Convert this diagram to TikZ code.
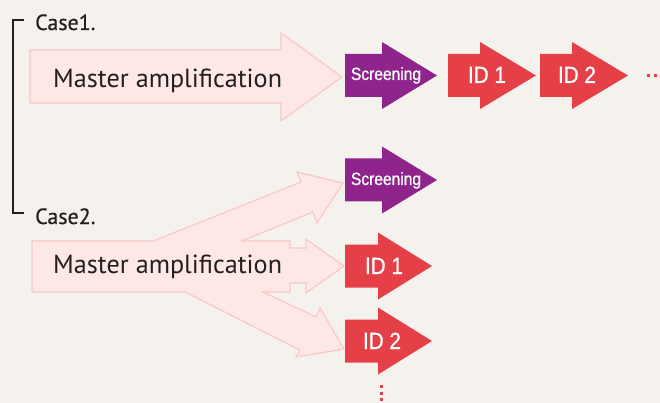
\documentclass[tikz,border=0pt]{standalone}
\usepackage{fontspec}
\setmainfont{PT Sans}
\newfontfamily\casefont[FakeBold=0.6]{PT Sans}
\newfontfamily\arrowfont[FakeStretch=0.88, FakeBold=0.8]{Liberation Sans}

\definecolor{paper}{RGB}{245,242,238}
\definecolor{pinkfill}{RGB}{253,232,229}
\definecolor{pinkline}{RGB}{248,200,198}
\definecolor{screenpurple}{RGB}{142,36,140}
\definecolor{idred}{RGB}{229,64,72}
\definecolor{ink}{RGB}{35,31,32}

\tikzset{
  pics/blockarrow/.style n args={3}{code={
    \fill[#3] (0,-21.5) -- (#1,-21.5) -- (#1,-33.5) -- ({#1+#2},0)
      -- (#1,33.5) -- (#1,21.5) -- (0,21.5) -- cycle;
  }},
  amplify/.style={fill=pinkfill, draw=pinkline, line width=1.2pt},
  casetext/.style={anchor=base west, inner sep=0, text=ink, font=\casefont\fontsize{22}{22}\selectfont},
  mastertext/.style={anchor=base west, inner sep=0, text=ink, font=\fontsize{26.2}{27}\selectfont},
  screentext/.style={anchor=base, inner sep=0, text=white, font=\arrowfont\fontsize{17.7}{18}\selectfont},
  idtext/.style={anchor=base, inner sep=0, text=white, font=\arrowfont\fontsize{23.5}{24}\selectfont},
}

\begin{document}
\begin{tikzpicture}[x=1pt, y=-1pt]
    \useasboundingbox (0,0) rectangle (660,403);
    \fill[paper] (0,0) rectangle (660,403);

    \draw[ink, line width=1.3pt] (24,20) -- (13,20) -- (13,213) -- (24,213);
    \node[casetext] (case1) at (35,30) {Case1.};
    \node[casetext] (case2) at (35,224) {Case2.};

    % case 1: one long chain
    \draw[amplify] (30,50) -- (281,50) -- (281,33) -- (342,77) -- (281,121)
        -- (281,103) -- (30,103) -- cycle;
    \node[mastertext] (master1) at (53,88) {Master amplification};

    \pic at (345,75.5) {blockarrow={37}{55}{screenpurple}};
    \pic at (448,75.5) {blockarrow={32}{56}{idred}};
    \pic at (540,75.5) {blockarrow={32}{56}{idred}};
    \node[screentext] (scr1) at (386,80) {Screening};
    \node[idtext] (ida1) at (487,83) {ID 1};
    \node[idtext] (idb1) at (577,83) {ID 2};
    \draw[idred, line width=3pt, dash pattern=on 3pt off 4pt] (646.5,76) -- (668,76);

    % case 2: one amplification split three ways
    \draw[amplify] (32,241) -- (153,241) -- (301,182) -- (297,172) -- (343,183)
        -- (317,223) -- (313,212) -- (242,241) -- (290,241) -- (290,248)
        -- (306,248) -- (306,239) -- (344,266) -- (306,293) -- (306,283)
        -- (290,283) -- (290,292) -- (263,292) -- (316,317) -- (320,308)
        -- (344,349) -- (296,357) -- (300,350) -- (185,292) -- (32,292) -- cycle;
    \node[mastertext] (master2) at (53,273) {Master amplification};

    \pic at (345,180) {blockarrow={37}{55}{screenpurple}};
    \pic at (345,266) {blockarrow={33}{54}{idred}};
    \pic at (345,341) {blockarrow={33}{54}{idred}};
    \node[screentext] (scr2) at (386,185) {Screening};
    \node[idtext] (ida2) at (384,274) {ID 1};
    \node[idtext] (idb2) at (382,349) {ID 2};
    \draw[idred, line width=3pt, dash pattern=on 3pt off 3.7pt] (381,385) -- (381,410);
\end{tikzpicture}
\end{document}
